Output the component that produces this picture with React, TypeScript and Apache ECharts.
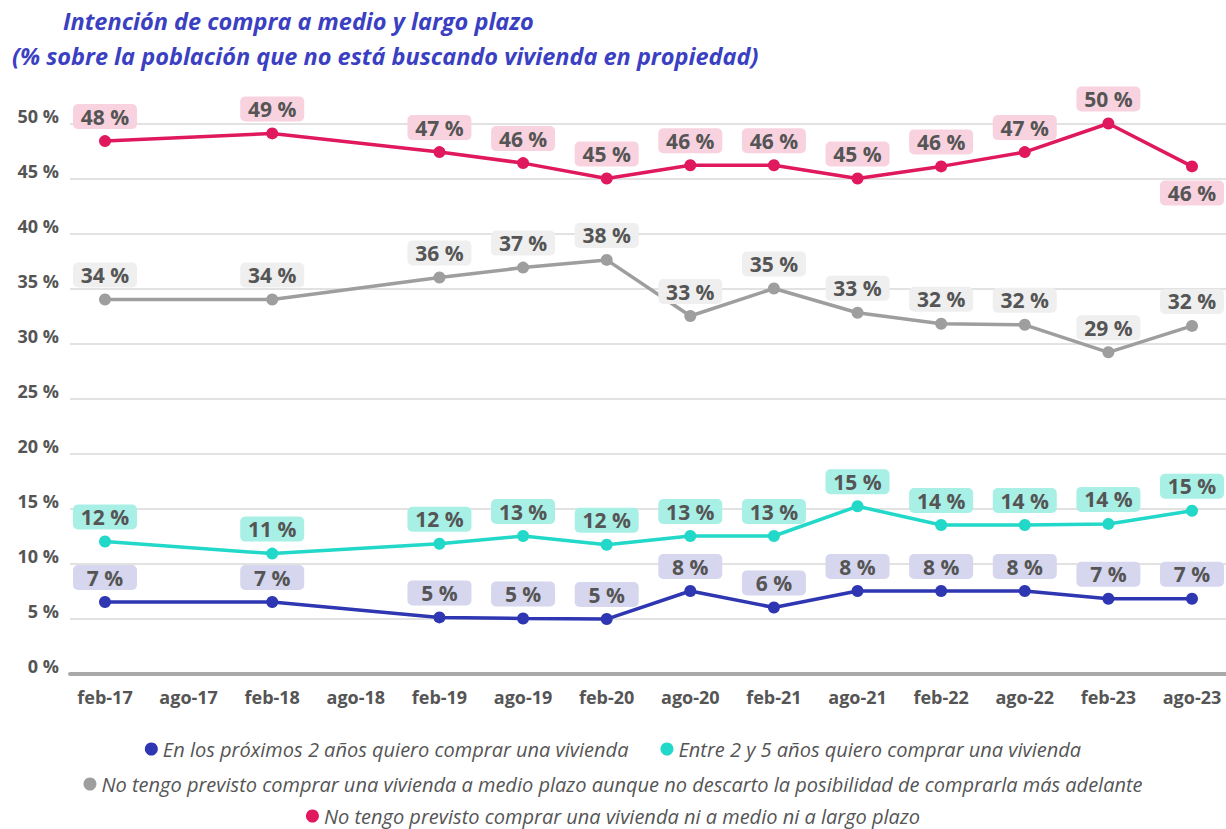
import React, { useEffect, useRef } from "react";
import * as echarts from "echarts";

const categories = ["feb-17", "ago-17", "feb-18", "ago-18", "feb-19", "ago-19", "feb-20", "ago-20", "feb-21", "ago-21", "feb-22", "ago-22", "feb-23", "ago-23"];
const yTicks = { min: 0, max: 50, interval: 5 };

const nameBlue = "En los próximos 2 años quiero comprar una vivienda";
const nameCyan = "Entre 2 y 5 años quiero comprar una vivienda";
const nameGray = "No tengo previsto comprar una vivienda a medio plazo aunque no descarto la posibilidad de comprarla más adelante";
const nameRed = "No tengo previsto comprar una vivienda ni a medio ni a largo plazo";

const blueValues = [6.5, null, 6.5, null, 5.1, 5.0, 4.95, 7.5, 6.0, 7.5, 7.5, 7.5, 6.8, 6.8];
const cyanValues = [12.0, null, 10.9, null, 11.8, 12.5, 11.7, 12.5, 12.5, 15.2, 13.5, 13.5, 13.6, 14.8];
const grayValues = [34.0, null, 34.0, null, 36.0, 36.9, 37.6, 32.5, 35.0, 32.8, 31.8, 31.7, 29.2, 31.6];
const redValues = [48.4, null, 49.1, null, 47.4, 46.4, 45.0, 46.2, 46.2, 45.0, 46.1, 47.4, 50.0, 46.1];
// label placement per point (red last one sits below)
const redLabelPos = ["top", null, "top", null, "top", "top", "top", "top", "top", "top", "top", "top", "top", "bottom"];

const FONT = "'Open Sans', 'Noto Sans', sans-serif";

function makeSeries(name: string, values: (number | null)[], color: string, bg: string, positions?: (string | null)[]) {
  return {
    name,
    type: "line",
    xAxisIndex: 1,
    yAxisIndex: 1,
    connectNulls: true,
    symbol: "circle",
    symbolSize: 12,
    lineStyle: { color, width: 3.5 },
    itemStyle: { color },
    data: values.map((v, i) =>
      v === null
        ? null
        : positions && positions[i] === "bottom"
        ? { value: v, label: { position: "bottom", distance: 8 } }
        : v
    ),
    label: {
      show: true,
      position: "top",
      distance: 6,
      formatter: (p: any) => `${Math.round(p.value)} %`,
      fontFamily: FONT,
      fontWeight: "bold",
      fontSize: 21,
      color: "#555555",
      backgroundColor: bg,
      borderRadius: 5,
      width: 56,
      height: 23,
      lineHeight: 23,
      align: "center",
      padding: [1, 4],
    },
  };
}

export default function App() {
  const ref = useRef<HTMLDivElement>(null);
  useEffect(() => {
    if (!ref.current) return;
    const chart = echarts.init(ref.current, null, { renderer: "svg" });
    const legendText = { fontFamily: FONT, fontStyle: "italic", fontSize: 20, color: "#555555" };
    const legendBase = {
      icon: "circle",
      itemWidth: 13,
      itemHeight: 13,
      itemGap: 32,
      textStyle: legendText,
      left: "center",
      padding: 0,
    };
    const titleStyle = { fontFamily: FONT, fontStyle: "italic", fontWeight: "bold", fontSize: 23.5, color: "#3b3fc2" };
    chart.setOption({
      animation: false,
      backgroundColor: "#ffffff",
      title: [
        { text: "Intención de compra a medio y largo plazo", left: 63, top: 9, padding: 0, textStyle: titleStyle },
        { text: "(% sobre la población que no está buscando vivienda en propiedad)", left: 12, top: 44, padding: 0, textStyle: titleStyle },
      ],
      legend: [
        { ...legendBase, top: 739, data: [nameBlue, nameCyan] },
        { ...legendBase, top: 774, data: [nameGray] },
        { ...legendBase, top: 806, data: [nameRed] },
      ],
      grid: [
        { left: 70, right: 0, top: 123.5, bottom: 155.5 },
        { left: 105, right: 34, top: 123.5, bottom: 155.5 },
      ],
      xAxis: [
        {
          gridIndex: 0,
          type: "category",
          data: categories,
          axisLine: { show: true, lineStyle: { color: "#a9a9a9", width: 4 } },
          axisTick: { show: false },
          axisLabel: { show: false },
        },
        {
          gridIndex: 1,
          type: "category",
          data: categories,
          boundaryGap: false,
          axisLine: { show: false },
          axisTick: { show: false },
          axisLabel: {
            interval: 0,
            margin: 14,
            fontFamily: FONT,
            fontWeight: "bold",
            fontSize: 18,
            color: "#555555",
          },
        },
      ],
      yAxis: [
        {
          gridIndex: 0,
          type: "value",
          ...yTicks,
          axisLine: { show: false },
          axisTick: { show: false },
          splitLine: { lineStyle: { color: "#d9d9d9", width: 1.5 } },
          axisLabel: {
            formatter: "{value} %",
            margin: 11,
            verticalAlign: "bottom",
            lineHeight: 16,
            fontFamily: FONT,
            fontWeight: "bold",
            fontSize: 18,
            color: "#555555",
          },
        },
        {
          gridIndex: 1,
          type: "value",
          ...yTicks,
          axisLine: { show: false },
          axisTick: { show: false },
          splitLine: { show: false },
          axisLabel: { show: false },
        },
      ],
      series: [
        makeSeries(nameBlue, blueValues, "#2e36b2", "#d6d6ee"),
        makeSeries(nameCyan, cyanValues, "#22d8c8", "#a8efe6"),
        makeSeries(nameGray, grayValues, "#9e9e9e", "#efefef"),
        makeSeries(nameRed, redValues, "#e0185e", "#f8d3df", redLabelPos),
      ],
    });
    return () => chart.dispose();
  }, []);
  return <div ref={ref} style={{ width: 1226, height: 829, position: "absolute", left: 0, top: 0 }} />;
}
